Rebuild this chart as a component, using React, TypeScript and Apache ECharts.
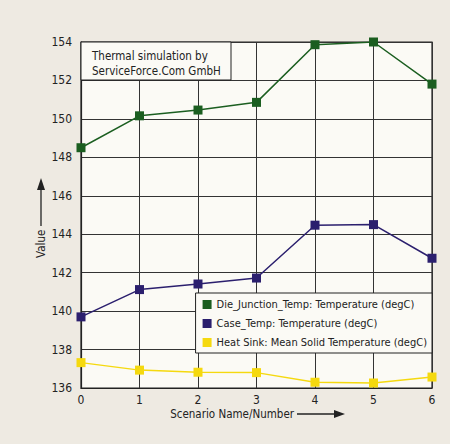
import React, { useEffect, useRef } from "react";
import * as echarts from "echarts";

const categories = ["0", "1", "2", "3", "4", "5", "6"];
const dieJunction = [148.5, 150.16, 150.46, 150.86, 153.86, 154.0, 151.81];
const caseTemp = [139.7, 141.12, 141.41, 141.72, 144.47, 144.5, 142.75];
const heatSink = [137.32, 136.93, 136.82, 136.8, 136.3, 136.26, 136.57];
const seriesNames = [
  "Die_Junction_Temp: Temperature (degC)",
  "Case_Temp: Temperature (degC)",
  "Heat Sink: Mean Solid Temperature (degC)",
];
const colors = ["#1b5e20", "#2b1f6e", "#f5d90f"];

const FONT = '"DejaVu Sans Condensed", "Liberation Sans Narrow", "Arial Narrow", sans-serif';

export default function App() {
  const ref = useRef<HTMLDivElement>(null);
  useEffect(() => {
    if (!ref.current) return;
    const chart = echarts.init(ref.current, undefined, { renderer: "svg" });
    const data = [dieJunction, caseTemp, heatSink];
    chart.setOption({
      animation: false,
      backgroundColor: "#eeeae2",
      textStyle: { fontFamily: FONT },
      grid: {
        left: 81,
        right: 18,
        top: 42,
        bottom: 56,
        show: true,
        backgroundColor: "#fbfaf5",
        borderColor: "#222",
        borderWidth: 1.2,
      },
      xAxis: {
        type: "category",
        data: categories,
        boundaryGap: false,
        axisLine: { lineStyle: { color: "#222", width: 1.2 } },
        axisTick: { show: false },
        axisLabel: { color: "#222", fontSize: 12, fontFamily: FONT, margin: 6 },
        splitLine: { show: true, lineStyle: { color: "#333", width: 1 } },
      },
      yAxis: {
        type: "value",
        min: 136,
        max: 154,
        interval: 2,
        axisLine: { show: true, lineStyle: { color: "#222", width: 1.2 } },
        axisTick: { show: false },
        axisLabel: { color: "#222", fontSize: 12, fontFamily: FONT, margin: 9 },
        splitLine: { show: true, lineStyle: { color: "#333", width: 1 } },
      },
      legend: {
        orient: "vertical",
        right: 18,
        top: 293,
        data: seriesNames,
        icon: "rect",
        itemWidth: 9,
        itemHeight: 9,
        itemGap: 8,
        padding: [6, 5, 5, 7],
        backgroundColor: "#fbfaf5",
        borderColor: "#222",
        borderWidth: 1,
        textStyle: { color: "#222", fontSize: 11, fontFamily: FONT },
      },
      series: seriesNames.map((name, i) => ({
        name,
        type: "line",
        data: data[i],
        symbol: "rect",
        symbolSize: 9,
        z: 3,
        itemStyle: { color: colors[i] },
        lineStyle: { color: colors[i], width: 1.5 },
      })),
      graphic: [
        {
          type: "rect",
          shape: { x: 81, y: 42, width: 150, height: 38 },
          style: { fill: "#fbfaf5", stroke: "#222", lineWidth: 1 },
          z: 10,
        },
        {
          type: "text",
          x: 92,
          y: 48,
          style: {
            text: "Thermal simulation by\nServiceForce.Com GmbH",
            fontSize: 11.5,
            lineHeight: 15,
            fontFamily: FONT,
            fill: "#222",
          },
          z: 11,
        },
        {
          type: "text",
          x: 294,
          y: 414,
          style: {
            text: "Scenario Name/Number",
            fontSize: 11.5,
            fontFamily: FONT,
            fill: "#222",
            align: "right",
            verticalAlign: "middle",
          },
        },
        {
          type: "line",
          shape: { x1: 297, y1: 414, x2: 334, y2: 414 },
          style: { stroke: "#222", lineWidth: 1.3 },
        },
        {
          type: "polygon",
          shape: { points: [[334, 410], [345, 414], [334, 418]] },
          style: { fill: "#222" },
        },
        {
          type: "text",
          x: 41,
          y: 258,
          rotation: Math.PI / 2,
          style: {
            text: "Value",
            fontSize: 11.5,
            fontFamily: FONT,
            fill: "#222",
            align: "left",
            verticalAlign: "middle",
          },
        },
        {
          type: "line",
          shape: { x1: 41, y1: 226, x2: 41, y2: 189 },
          style: { stroke: "#222", lineWidth: 1.3 },
        },
        {
          type: "polygon",
          shape: { points: [[37, 190], [41, 178], [45, 190]] },
          style: { fill: "#222" },
        },
      ],
    });
    return () => chart.dispose();
  }, []);
  return (
    <div
      ref={ref}
      style={{ position: "fixed", left: 0, top: 0, width: 450, height: 444 }}
    />
  );
}
